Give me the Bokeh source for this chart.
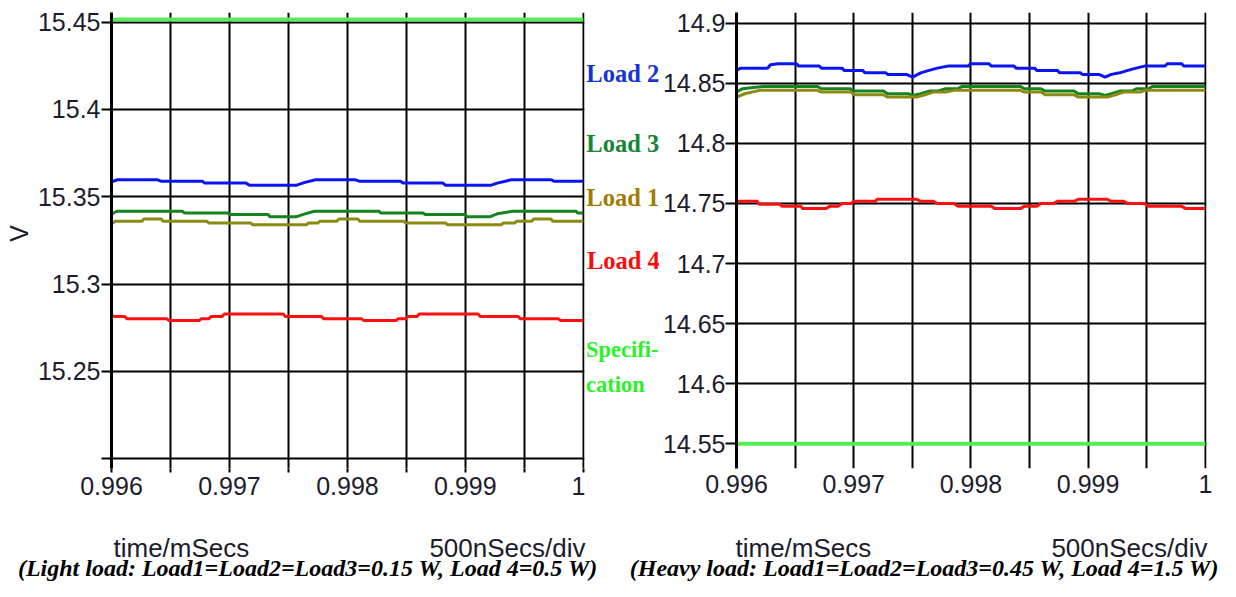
import math
from bokeh.plotting import figure
from bokeh.models import FixedTicker, CustomJSTickFormatter, Label, Range1d
from bokeh.layouts import row, column
from bokeh.embed import file_html
from bokeh.resources import INLINE

# ---------------- data ----------------
X_MAJOR = [0.996, 0.997, 0.998, 0.999, 1.0]
X_MINOR = [0.9965, 0.9975, 0.9985, 0.9995]

# Light load (left panel)
Y_LEFT_MAJOR = [15.25, 15.3, 15.35, 15.4, 15.45]
Y_LEFT_MINOR = [15.2]
SPEC_LEFT = 15.4515

T_L2 = [0.99600, 0.99605, 0.99639, 0.99642, 0.99677, 0.99679, 0.99714, 0.99717, 0.99757, 0.99764,
        0.99773, 0.99807, 0.99810, 0.99845, 0.99847, 0.99881, 0.99883, 0.99922, 0.99927, 0.99939,
        0.99973, 0.99975, 1.00000]
V_L2 = [15.3585, 15.3597, 15.3597, 15.3589, 15.3589, 15.3578, 15.3578, 15.3566, 15.3566, 15.3582,
        15.3597, 15.3597, 15.3589, 15.3589, 15.3578, 15.3578, 15.3566, 15.3566, 15.3578, 15.3597,
        15.3597, 15.3589, 15.3589]

T_L3 = [0.99600, 0.99605, 0.99660, 0.99662, 0.99699, 0.99700, 0.99733, 0.99734, 0.99757, 0.99764,
        0.99772, 0.99827, 0.99828, 0.99864, 0.99866, 0.99900, 0.99901, 0.99921, 0.99927, 0.99940,
        0.99994, 0.99995, 1.00000]
V_L3 = [15.3402, 15.3417, 15.3417, 15.3407, 15.3407, 15.3398, 15.3398, 15.3386, 15.3386, 15.3402,
        15.3417, 15.3417, 15.3407, 15.3407, 15.3398, 15.3398, 15.3386, 15.3386, 15.3402, 15.3417,
        15.3417, 15.3407, 15.3407]

T_L1 = [0.996000, 0.996032, 0.996259, 0.996275, 0.996421, 0.996437, 0.996810, 0.996826, 0.997182,
        0.997198, 0.997652, 0.997668, 0.997749, 0.997765, 0.997911, 0.997927, 0.998089, 0.998105,
        0.998478, 0.998494, 0.998834, 0.998850, 0.999304, 0.999320, 0.999417, 0.999433, 0.999563,
        0.999579, 0.999725, 0.999741, 1.000000]
V_L1 = [15.3345, 15.3360, 15.3360, 15.3373, 15.3373, 15.3360, 15.3360, 15.3349, 15.3349, 15.3339,
        15.3339, 15.3349, 15.3349, 15.3360, 15.3360, 15.3373, 15.3373, 15.3360, 15.3360, 15.3349,
        15.3349, 15.3339, 15.3339, 15.3349, 15.3349, 15.3360, 15.3360, 15.3373, 15.3373, 15.3360,
        15.3360]

T_L4 = [0.996000, 0.996032, 0.996113, 0.996130, 0.996470, 0.996486, 0.996745, 0.996761, 0.996826,
        0.996842, 0.996939, 0.996955, 0.997458, 0.997474, 0.997781, 0.997798, 0.998121, 0.998138,
        0.998413, 0.998429, 0.998494, 0.998510, 0.998591, 0.998607, 0.999109, 0.999126, 0.999449,
        0.999465, 0.999789, 0.999806, 1.000000]
V_L4 = [15.2818, 15.2814, 15.2814, 15.2801, 15.2801, 15.2792, 15.2792, 15.2801, 15.2801, 15.2814,
        15.2814, 15.2828, 15.2828, 15.2814, 15.2814, 15.2801, 15.2801, 15.2792, 15.2792, 15.2801,
        15.2801, 15.2814, 15.2814, 15.2828, 15.2828, 15.2814, 15.2814, 15.2801, 15.2801, 15.2792,
        15.2792]

# Heavy load (right panel)
Y_RIGHT_MAJOR = [14.55, 14.6, 14.65, 14.7, 14.75, 14.8, 14.85, 14.9]
SPEC_RIGHT = 14.55

T_R2 = [0.996000, 0.996035, 0.996265, 0.996290, 0.996353, 0.996512, 0.996530, 0.996707, 0.996724,
        0.996901, 0.996919, 0.997078, 0.997095, 0.997272, 0.997290, 0.997449, 0.997502, 0.997572,
        0.997643, 0.997714, 0.997802, 0.997979, 0.997996, 0.998155, 0.998173, 0.998368, 0.998385,
        0.998544, 0.998562, 0.998739, 0.998756, 0.998933, 0.998951, 0.999092, 0.999145, 0.999198,
        0.999269, 0.999339, 0.999410, 0.999481, 0.999657, 0.999675, 0.999799, 0.999816, 1.000000]
V_R2 = [14.8607, 14.8626, 14.8626, 14.8654, 14.8662, 14.8662, 14.8643, 14.8643, 14.8626, 14.8626,
        14.8607, 14.8607, 14.8587, 14.8587, 14.8574, 14.8574, 14.8551, 14.8587, 14.8607, 14.8626,
        14.8643, 14.8643, 14.8662, 14.8662, 14.8643, 14.8643, 14.8626, 14.8626, 14.8607, 14.8607,
        14.8587, 14.8587, 14.8574, 14.8574, 14.8551, 14.8574, 14.8587, 14.8607, 14.8626, 14.8643,
        14.8643, 14.8662, 14.8662, 14.8643, 14.8643]

T_R3 = [0.996000, 0.996053, 0.996124, 0.996230, 0.996689, 0.996724, 0.996972, 0.996989, 0.997254,
        0.997290, 0.997466, 0.997502, 0.997572, 0.997643, 0.997714, 0.997784, 0.997890, 0.997926,
        0.998421, 0.998456, 0.998597, 0.998633, 0.998880, 0.998915, 0.999092, 0.999145, 0.999198,
        0.999269, 0.999375, 0.999410, 0.999516, 0.999551, 1.000000]
V_R3 = [14.8427, 14.8455, 14.8463, 14.8474, 14.8474, 14.8455, 14.8455, 14.8435, 14.8435, 14.8413,
        14.8413, 14.8399, 14.8413, 14.8435, 14.8435, 14.8455, 14.8455, 14.8474, 14.8474, 14.8455,
        14.8455, 14.8435, 14.8435, 14.8413, 14.8413, 14.8399, 14.8413, 14.8435, 14.8435, 14.8455,
        14.8455, 14.8474, 14.8474]

T_R1 = [0.996000, 0.996071, 0.996194, 0.996689, 0.996724, 0.996972, 0.997007, 0.997254, 0.997290,
        0.997537, 0.997608, 0.997678, 0.997784, 0.997855, 0.998421, 0.998456, 0.998597, 0.998633,
        0.998880, 0.998915, 0.999163, 0.999233, 0.999304, 0.999445, 0.999481, 1.000000]
V_R1 = [14.8385, 14.8413, 14.8441, 14.8441, 14.8427, 14.8427, 14.8405, 14.8405, 14.8385, 14.8385,
        14.8405, 14.8427, 14.8427, 14.8441, 14.8441, 14.8427, 14.8427, 14.8405, 14.8405, 14.8385,
        14.8385, 14.8405, 14.8427, 14.8427, 14.8441, 14.8441]

T_R4 = [0.996000, 0.996177, 0.996194, 0.996371, 0.996389, 0.996548, 0.996565, 0.996760, 0.996795,
        0.996866, 0.996901, 0.996972, 0.997007, 0.997184, 0.997201, 0.997537, 0.997572, 0.997678,
        0.997714, 0.997855, 0.997890, 0.998173, 0.998209, 0.998421, 0.998456, 0.998562, 0.998597,
        0.998703, 0.998739, 0.998880, 0.998915, 0.999163, 0.999198, 0.999304, 0.999339, 0.999481,
        0.999516, 0.999799, 0.999834, 1.000000]
V_R4 = [14.7518, 14.7518, 14.7493, 14.7493, 14.7476, 14.7476, 14.7457, 14.7457, 14.7476, 14.7476,
        14.7499, 14.7499, 14.7518, 14.7518, 14.7535, 14.7535, 14.7518, 14.7518, 14.7499, 14.7499,
        14.7476, 14.7476, 14.7457, 14.7457, 14.7476, 14.7476, 14.7499, 14.7499, 14.7518, 14.7518,
        14.7535, 14.7535, 14.7518, 14.7518, 14.7499, 14.7499, 14.7476, 14.7476, 14.7457, 14.7457]

SERIES_NAMES = ["Load 2", "Load 3", "Load 1", "Load 4"]
SPEC_NAME = ["Specifi-", "cation"]
Y_LABEL = "V"
X_LABEL = "time/mSecs"
X_SCALE_NOTE = "500nSecs/div"
CAPTION_LEFT = "(Light load: Load1=Load2=Load3=0.15 W, Load 4=0.5 W)"
CAPTION_RIGHT = "(Heavy load: Load1=Load2=Load3=0.45 W, Load 4=1.5 W)"

# ---------------- styles ----------------
C_BLUE = "#0a14f5"
C_GREEN = "#16841e"
C_OLIVE = "#8c8a12"
C_RED = "#ff1010"
C_SPEC = "#55ec55"
TXT_BLUE = "#1634d2"
TXT_GREEN = "#15853a"
TXT_OLIVE = "#a27c02"
TXT_RED = "#ff0a0a"
TXT_SPEC = "#2af22a"
TICK_COLOR = "#1c1c2c"
SANS = "Liberation Sans"
SERIF = "Liberation Serif"

X_RANGE = (0.996, 1.00001)
FMT = "return String(Math.round(tick*10000)/10000);"

H_TOP = 522          # height of the plot row
B_TOP = 12           # shared top border of the plot row
B_BOT = 54           # shared bottom border of the plot row


def style_common(p):
    p.outline_line_color = None
    p.background_fill_color = "white"
    p.border_fill_color = "white"
    p.xgrid.grid_line_color = "black"
    p.xgrid.grid_line_width = 2
    p.xgrid.minor_grid_line_color = "black"
    p.xgrid.minor_grid_line_width = 2
    p.ygrid.grid_line_color = "black"
    p.ygrid.grid_line_width = 2
    for ax in (p.xaxis[0], p.yaxis[0]):
        ax.formatter = CustomJSTickFormatter(code=FMT)
        ax.major_label_text_font = SANS
        ax.major_label_text_font_size = "25px"
        ax.major_label_text_color = TICK_COLOR
        ax.major_tick_in = 0
        ax.minor_tick_in = 0
        ax.major_tick_line_color = "black"
        ax.minor_tick_line_color = "black"
        ax.major_tick_line_width = 2
        ax.minor_tick_line_width = 2
    p.yaxis[0].axis_line_color = "black"
    p.yaxis[0].axis_line_width = 3
    p.xaxis[0].axis_line_color = None


def text_panel(width, height, yr, mb_top=0, mb_bot=0):
    p = figure(width=width, height=height, x_range=Range1d(0, width), y_range=Range1d(*yr),
               min_border_left=0, min_border_right=0, min_border_top=mb_top, min_border_bottom=mb_bot,
               x_axis_location=None, y_axis_location=None,
               output_backend="svg", toolbar_location=None)
    p.outline_line_color = None
    p.grid.visible = False
    p.background_fill_color = "white"
    p.border_fill_color = "white"
    return p


def lab(p, x, y, text, font, size, color, align="left", style="normal", angle=0.0):
    p.add_layout(Label(x=x, y=y, text=text, text_font=font, text_font_size=size,
                       text_color=color, text_align=align, text_baseline="middle",
                       text_font_style=style, angle=angle))


# ---------------- "V" panel ----------------
W_V = 34
pV = text_panel(W_V, H_TOP, (B_BOT, H_TOP - B_TOP), B_TOP, B_BOT)
lab(pV, 18, H_TOP - 233, Y_LABEL, SANS, "25px", TICK_COLOR, align="center", angle=math.pi / 2)

# ---------------- left panel ----------------
W1 = 77 + 473 + 1
p1 = figure(width=W1, height=H_TOP, x_range=Range1d(*X_RANGE), y_range=Range1d(15.19443, 15.45545),
            min_border_left=77, min_border_right=1, min_border_top=B_TOP, min_border_bottom=B_BOT,
            output_backend="svg", toolbar_location=None)
style_common(p1)
p1.xaxis.ticker = FixedTicker(ticks=X_MAJOR, minor_ticks=X_MINOR)
p1.yaxis.ticker = FixedTicker(ticks=Y_LEFT_MAJOR, minor_ticks=Y_LEFT_MINOR)
p1.ygrid.minor_grid_line_color = "black"
p1.ygrid.minor_grid_line_width = 2
p1.xaxis.major_tick_out = 4
p1.xaxis.minor_tick_out = 4
p1.xaxis.major_label_standoff = 4
p1.yaxis.major_tick_out = 10
p1.yaxis.minor_tick_out = 10
p1.yaxis.major_label_standoff = 1

p1.line([X_MAJOR[0], X_MAJOR[-1]], [SPEC_LEFT, SPEC_LEFT], line_color=C_SPEC, line_width=4)
p1.line(T_L2, V_L2, line_color=C_BLUE, line_width=3)
p1.line(T_L3, V_L3, line_color=C_GREEN, line_width=3)
p1.line(T_L1, V_L1, line_color=C_OLIVE, line_width=3)
p1.line(T_L4, V_L4, line_color=C_RED, line_width=3)

# ---------------- middle labels panel ----------------
W_M = 74
pM = text_panel(W_M, H_TOP, (B_BOT, H_TOP - B_TOP), B_TOP, B_BOT)
lab(pM, 0.8, H_TOP - 73, SERIES_NAMES[0], SERIF, "24.5px", TXT_BLUE, style="bold")
lab(pM, 0.8, H_TOP - 143, SERIES_NAMES[1], SERIF, "24.5px", TXT_GREEN, style="bold")
lab(pM, 0.8, H_TOP - 197, SERIES_NAMES[2], SERIF, "24.5px", TXT_OLIVE, style="bold")
lab(pM, 1.5, H_TOP - 260, SERIES_NAMES[3], SERIF, "24.5px", TXT_RED, style="bold")
lab(pM, 0.5, H_TOP - 349, SPEC_NAME[0], SERIF, "22.5px", TXT_SPEC, style="bold")
lab(pM, 0.5, H_TOP - 384, SPEC_NAME[1], SERIF, "22.5px", TXT_SPEC, style="bold")

# ---------------- right panel ----------------
W2 = 1220 - W_V - W1 - W_M
p2 = figure(width=W2, height=H_TOP, x_range=Range1d(*X_RANGE), y_range=Range1d(14.52945, 14.90890),
            min_border_left=74, min_border_right=W2 - 74 - 473, min_border_top=B_TOP,
            min_border_bottom=B_BOT, output_backend="svg", toolbar_location=None)
style_common(p2)
p2.xaxis.ticker = FixedTicker(ticks=X_MAJOR, minor_ticks=X_MINOR)
p2.yaxis.ticker = FixedTicker(ticks=Y_RIGHT_MAJOR)
p2.xaxis.major_tick_line_color = None
p2.xaxis.minor_tick_line_color = None
p2.xaxis.major_tick_out = 0
p2.xaxis.minor_tick_out = 0
p2.xaxis.major_label_standoff = 6
p2.yaxis.major_tick_out = 11
p2.yaxis.major_label_standoff = 0

p2.line([X_MAJOR[0], X_MAJOR[-1]], [SPEC_RIGHT, SPEC_RIGHT], line_color=C_SPEC, line_width=4)
p2.line(T_R2, V_R2, line_color=C_BLUE, line_width=3)
p2.line(T_R3, V_R3, line_color=C_GREEN, line_width=3)
p2.line(T_R1, V_R1, line_color=C_OLIVE, line_width=3)
p2.line(T_R4, V_R4, line_color=C_RED, line_width=3)

# ---------------- bottom texts ----------------
H_BOT = 581 - H_TOP
p3 = text_panel(1220, H_BOT, (0, H_BOT))
y_ax = H_BOT - (547 - H_TOP)
y_cap = H_BOT - (567 - H_TOP)
lab(p3, 113, y_ax, X_LABEL, SANS, "26px", TICK_COLOR, align="left")
lab(p3, 585, y_ax, X_SCALE_NOTE, SANS, "26px", TICK_COLOR, align="right")
lab(p3, 735, y_ax, X_LABEL, SANS, "26px", TICK_COLOR, align="left")
lab(p3, 1207, y_ax, X_SCALE_NOTE, SANS, "26px", TICK_COLOR, align="right")
lab(p3, 307.5, y_cap, CAPTION_LEFT, SERIF, "24px", "black", align="center", style="bold italic")
lab(p3, 924, y_cap, CAPTION_RIGHT, SERIF, "24px", "black", align="center", style="bold italic")

layout = column(row(pV, p1, pM, p2), p3)
open("out.html", "w").write(file_html(layout, INLINE))
